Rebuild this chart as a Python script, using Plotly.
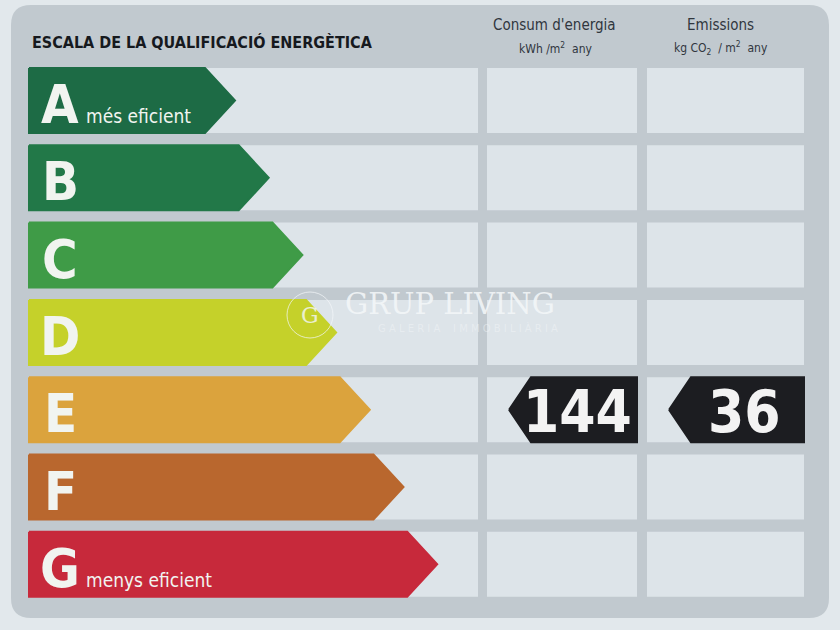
import plotly.graph_objects as go

# ---------------- data ----------------
grades = ["A", "B", "C", "D", "E", "F", "G"]
grade_colors = ["#1d6b45", "#227848", "#3f9b47", "#c5d12a", "#dba33d", "#b9672e", "#c7293b"]
grade_notes = ["més eficient", "", "", "", "", "", "menys eficient"]
title_text = "ESCALA DE LA QUALIFICACIÓ ENERGÈTICA"
column_titles = ["Consum d'energia", "Emissions"]
column_units = ["kWh /m<sup>2</sup>  any", "kg CO<sub>2</sub>  / m<sup>2</sup>  any"]
rated_grade = "E"
rated_values = [144, 36]          # energy consumption, CO2 emissions
watermark = "GRUP LIVING"
watermark_sub = "G A L E R I A    I M M O B I L I À R I A"

# ---------------- layout constants ----------------
W, H = 840, 630
ROW_TOP0, ROW_PITCH, ROW_H = 68, 77.3, 65
BAR_LEFT, TIP0, TIP_STEP, DEPTH = 29, 235, 33.7, 30
LABEL_COL = (28, 478)
VALUE_COLS = [(487, 637), (647, 804)]
VALUE_TEXT_X = [577, 744]
PAPER = "#e2e8ec"
PANEL = "#c1c9cf"
CELL = "#dde4e9"
COND = "DejaVu Sans Condensed, Liberation Sans Narrow, sans-serif"

fig = go.Figure()
shapes = []
annotations = []

# panel with rounded corners
x0, y0, x1, y1, r = 11, 5, 829, 618, 20
panel_path = (f"M {x0+r},{y0} L {x1-r},{y0} Q {x1},{y0} {x1},{y0+r} "
              f"L {x1},{y1-r} Q {x1},{y1} {x1-r},{y1} L {x0+r},{y1} "
              f"Q {x0},{y1} {x0},{y1-r} L {x0},{y0+r} Q {x0},{y0} {x0+r},{y0} Z")
shapes.append(dict(type="path", path=panel_path, xref="x", yref="y",
                   fillcolor=PANEL, line=dict(width=0), layer="below"))

# table cells
for i, g in enumerate(grades):
    top = ROW_TOP0 + i * ROW_PITCH
    bot = top + ROW_H
    for (cx0, cx1) in [LABEL_COL] + VALUE_COLS:
        shapes.append(dict(type="rect", xref="x", yref="y", x0=cx0, x1=cx1,
                           y0=top, y1=bot, fillcolor=CELL, line=dict(width=0),
                           layer="below"))

# grade arrows
for i, g in enumerate(grades):
    top = ROW_TOP0 + i * ROW_PITCH
    bot = top + ROW_H
    mid = (top + bot) / 2
    tip = TIP0 + i * TIP_STEP
    xs = [BAR_LEFT, tip - DEPTH, tip, tip - DEPTH, BAR_LEFT, BAR_LEFT]
    ys = [top, top, mid, bot, bot, top]
    fig.add_trace(go.Scatter(x=xs, y=ys, mode="lines", fill="toself",
                             fillcolor=grade_colors[i],
                             line=dict(color=grade_colors[i], width=2),
                             hoverinfo="skip", showlegend=False))
    annotations.append(dict(x=60, y=mid + 4, text=f"<b>{g}</b>", showarrow=False,
                            xref="x", yref="y", xanchor="center", yanchor="middle",
                            font=dict(family=COND, size=54, color="#f1f4f0")))
    if grade_notes[i]:
        annotations.append(dict(x=84, y=bot - 17, text=grade_notes[i], showarrow=False,
                                xref="x", yref="y", xanchor="left", yanchor="middle",
                                font=dict(family=COND, size=19, color="#f1f4f0")))

# rated value arrows (pointing left)
ri = grades.index(rated_grade)
top = ROW_TOP0 + ri * ROW_PITCH
bot = top + ROW_H
mid = (top + bot) / 2
for (cx0, cx1), tx, val in zip(VALUE_COLS, VALUE_TEXT_X, rated_values):
    tipx = cx0 + 22
    xs = [tipx, tipx + 22, cx1, cx1, tipx + 22, tipx]
    ys = [mid, top, top, bot, bot, mid]
    fig.add_trace(go.Scatter(x=xs, y=ys, mode="lines", fill="toself",
                             fillcolor="#1c1d21", line=dict(color="#1c1d21", width=2),
                             hoverinfo="skip", showlegend=False))
    annotations.append(dict(x=tx, y=mid + 2, text=f"<b>{val}</b>",
                            showarrow=False, xref="x", yref="y", xanchor="center",
                            yanchor="middle",
                            font=dict(family=COND, size=58, color="#f3f3f3")))

# header texts
annotations.append(dict(x=30, y=42, text=f"<b>{title_text}</b>", showarrow=False,
                        xref="x", yref="y", xanchor="left", yanchor="middle",
                        font=dict(family=COND, size=16, color="#16191e")))
header_x = [554, 720]
for cx, t, u in zip(header_x, column_titles, column_units):
    annotations.append(dict(x=cx, y=25, text=t, showarrow=False,
                            xref="x", yref="y", xanchor="center", yanchor="middle",
                            font=dict(family=COND, size=15, color="#30363e")))
    annotations.append(dict(x=cx + 1, y=48, text=u, showarrow=False,
                            xref="x", yref="y", xanchor="center", yanchor="middle",
                            font=dict(family=COND, size=12, color="#30363e")))

# watermark
annotations.append(dict(x=450, y=304, text=watermark, showarrow=False, xref="x", yref="y",
                        xanchor="center", yanchor="middle", opacity=0.85,
                        font=dict(family="DejaVu Serif, serif", size=29, color="#f4f7f9")))
annotations.append(dict(x=468, y=328, text=watermark_sub, showarrow=False,
                        xref="x", yref="y", xanchor="center", yanchor="middle", opacity=0.45,
                        font=dict(family="DejaVu Sans, sans-serif", size=10, color="#f4f7f9")))
shapes.append(dict(type="circle", xref="x", yref="y", x0=287, x1=333, y0=292, y1=338,
                   line=dict(color="rgba(244,247,249,0.7)", width=1)))
annotations.append(dict(x=310, y=315, text="G", showarrow=False, xref="x", yref="y",
                        xanchor="center", yanchor="middle", opacity=0.8,
                        font=dict(family="DejaVu Serif, serif", size=22, color="#f4f7f9")))

fig.update_layout(
    width=W, height=H, margin=dict(l=0, r=0, t=0, b=0),
    paper_bgcolor=PAPER, plot_bgcolor=PAPER,
    xaxis=dict(range=[0, W], visible=False, fixedrange=True),
    yaxis=dict(range=[H, 0], visible=False, fixedrange=True),
    shapes=shapes, annotations=annotations, showlegend=False,
)
fig.write_html("out.html", config={"displayModeBar": False},
               post_script="document.body.style.margin='0';document.body.style.padding='0';"
                           "document.body.style.background='" + PAPER + "';")
